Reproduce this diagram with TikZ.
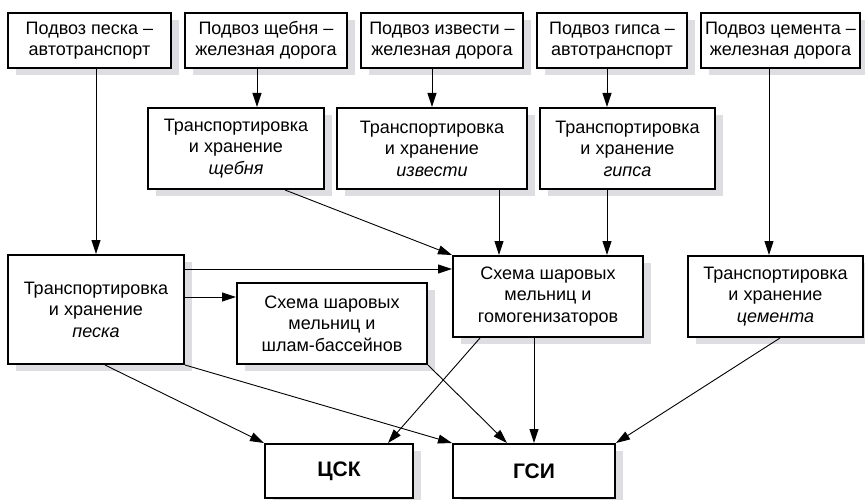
\documentclass[tikz,border=0pt]{standalone}
\usepackage{fontspec}
\setmainfont{Liberation Sans}
\usetikzlibrary{arrows.meta, shadows}

\definecolor{shadegray}{RGB}{222,222,226}

\begin{document}
\begin{tikzpicture}[x=1pt, y=-1pt,
        box/.style = {%
            draw, line width=2pt, fill=white, align=center, inner sep=0pt,
            font=\fontsize{18}{21.5}\selectfont,
            drop shadow={shadow xshift=8pt, shadow yshift=-7pt,
                fill=shadegray, opacity=1}
        },
        bigbox/.style = {box, font=\fontsize{21}{25}\selectfont\bfseries},
        arr/.style = {line width=0.9pt, -{Triangle[length=14pt, width=9pt]}}
    ]

        \useasboundingbox (0,0) rectangle (865,500);

        % Supply boxes on the top row.
        \node[box, minimum width=163, minimum height=55] (pesokIn) at (89.5,40.5) {Подвоз песка –\\автотранспорт};
        \node[box, minimum width=162, minimum height=55] (shchebenIn) at (266,40.5) {Подвоз щебня –\\железная дорога};
        \node[box, minimum width=162, minimum height=55] (izvestIn) at (442,40.5) {Подвоз извести –\\железная дорога};
        \node[box, minimum width=150, minimum height=55] (gipsIn) at (612,40.5) {Подвоз гипса –\\автотранспорт};
        \node[box, minimum width=159, minimum height=55] (cementIn) at (780.5,40.5) {Подвоз цемента –\\железная дорога};

        % Storage boxes.
        \node[box, minimum width=176, minimum height=81] (shchebenSt) at (236,148.5) {Транспортировка\\и хранение\\\textit{щебня}};
        \node[box, minimum width=190, minimum height=81] (izvestSt) at (432,148.5) {Транспортировка\\и хранение\\\textit{извести}};
        \node[box, minimum width=175, minimum height=81] (gipsSt) at (627.5,148.5) {Транспортировка\\и хранение\\\textit{гипса}};
        \node[box, minimum width=176, minimum height=109] (pesokSt) at (96,309.5) {Транспортировка\\и хранение\\\textit{песка}};
        \node[box, minimum width=175, minimum height=81] (cementSt) at (775.5,296.5) {Транспортировка\\и хранение\\\textit{цемента}};

        % Mill schemes.
        \node[box, minimum width=190, minimum height=81] (shlam) at (332,323.5) {Схема шаровых\\мельниц и\\шлам-бассейнов};
        \node[box, minimum width=190, minimum height=81] (gomo) at (548,296.5) {Схема шаровых\\мельниц и\\гомогенизаторов};

        % Products.
        \node[bigbox, minimum width=148, minimum height=54] (csk) at (339,471) {ЦСК};
        \node[bigbox, minimum width=162, minimum height=54] (gsi) at (534,471) {ГСИ};

        % Helper point on the left side of the homogenizer box.
        \coordinate (gomoIn) at ([yshift=-14pt]gomo.north west);

        % Supply to storage.
        \draw[arr] (pesokIn.south -| pesokSt.north) -- (pesokSt.north);
        \draw[arr] ([xshift=-9pt]shchebenIn.south) -- ([xshift=-9pt]shchebenIn.south |- shchebenSt.north);
        \draw[arr] (izvestIn.south -| izvestSt.north) -- (izvestSt.north);
        \draw[arr] ([xshift=-5pt]gipsIn.south) -- ([xshift=-5pt]gipsIn.south |- gipsSt.north);
        \draw[arr] ([xshift=-11.5pt]cementIn.south) -- ([xshift=-11.5pt]cementIn.south |- cementSt.north);

        % Storage to the mills.
        \draw[arr] ([xshift=49pt]shchebenSt.south) -- (gomo.north west);
        \draw[arr] ([xshift=67pt]izvestSt.south) -- ([xshift=67pt]izvestSt.south |- gomo.north);
        \draw[arr] ([xshift=-20.5pt]gipsSt.south) -- ([xshift=-20.5pt]gipsSt.south |- gomo.north);
        \draw[arr] (pesokSt.east |- gomoIn) -- (gomoIn);
        \draw[arr] ([yshift=12.5pt]pesokSt.east) -- ([yshift=12.5pt]pesokSt.east -| shlam.west);

        % To the products.
        \draw[arr] ([xshift=9pt]pesokSt.south) -- (csk.north west);
        \draw[arr] (pesokSt.south east) -- (gsi.north west);
        \draw[arr] (shlam.south east) -- ([xshift=-27pt]gsi.north);
        \draw[arr] ([xshift=-68pt]gomo.south) -- ([xshift=49pt]csk.north);
        \draw[arr] (gomo.south -| gsi.north) -- (gsi.north);
        \draw[arr] ([xshift=4.5pt]cementSt.south) -- (gsi.north east);
    \end{tikzpicture}
\end{document}
